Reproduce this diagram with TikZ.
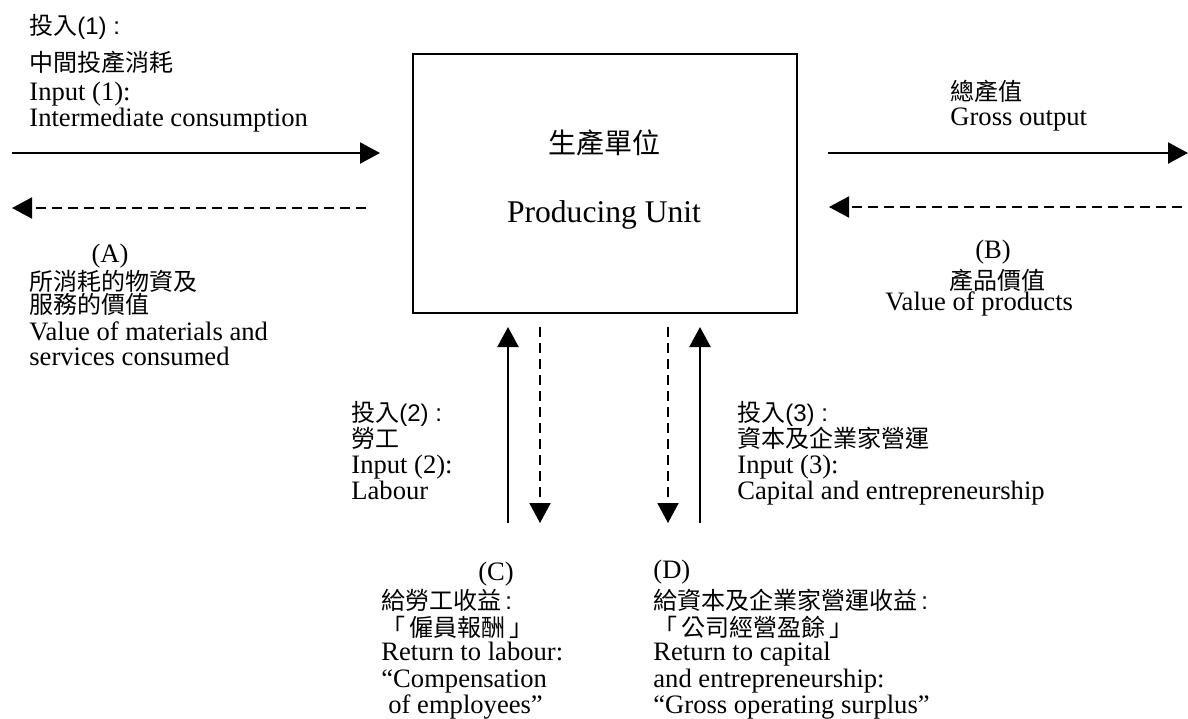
\documentclass[tikz,border=0pt]{standalone}
\usepackage{fontspec}
\setmainfont{Liberation Serif}
\newfontfamily\cjk{Noto Sans CJK TC}
\newfontfamily\lsans{Liberation Sans}
\usetikzlibrary{arrows.meta}
\begin{document}
\begin{tikzpicture}[x=0.5pt,y=-0.5pt,
  en/.style={font=\fontsize{13.3}{14}\selectfont, inner sep=0pt, anchor=base west},
  zh/.style={font=\cjk\fontsize{12}{13}\selectfont, inner sep=0pt, anchor=base west},
  flow/.style={line width=1.1pt, -{Triangle[length=10pt,width=10.5pt]}},
  ret/.style={line width=1pt, dash pattern=on 5pt off 3pt, -{Triangle[length=10pt,width=10.5pt]}},
  unitbox/.style={draw, line width=1pt, minimum width=192pt, minimum height=129.5pt, inner sep=0pt}]
\useasboundingbox (0,0) rectangle (1188,718);

% producing unit
\node[unitbox] (unit) at (605,183.5) {};
\node[font=\cjk\fontsize{14}{15}\selectfont, inner sep=0pt, anchor=base] (unitzh) at (604,153) {生產單位};
\node[font=\fontsize{15.8}{16}\selectfont, inner sep=0pt, anchor=base] (uniten) at (604,222) {Producing Unit};

% input 1
\node[zh] (i1a) at (29,34) {投入{\lsans(1) :}};
\node[zh] (i1b) at (29,71) {中間投產消耗};
\node[en] (i1c) at (29,100) {Input (1):};
\node[en] (i1d) at (29,126) {Intermediate consumption};
\coordinate (i1s) at (12,153);
\coordinate (i1e) at (380,153);
\draw[flow] (i1s) -- (i1e);
\coordinate (as) at (366,208);
\coordinate (ae) at (12,208);
\draw[ret] (as) -- (ae);

% (A)
\node[en, anchor=base] (A) at (110,262) {(A)};
\node[zh] (Aa) at (29,290) {所消耗的物資及};
\node[zh] (Ab) at (29,313) {服務的價值};
\node[en] (Ac) at (29,340) {Value of materials and};
\node[en] (Ad) at (29,365) {services consumed};

% gross output
\node[zh] (goa) at (950,100) {總產值};
\node[en] (gob) at (950,125) {Gross output};
\coordinate (gos) at (828,153);
\coordinate (goe) at (1188,153);
\draw[flow] (gos) -- (goe);
\coordinate (bs) at (1182,207);
\coordinate (be) at (829,207);
\draw[ret] (bs) -- (be);

% (B)
\node[en, anchor=base] (B) at (993,258) {(B)};
\node[zh, anchor=base] (Ba) at (997,289) {產品價值};
\node[en] (Bb) at (885,310) {Value of products};

% vertical arrows
\coordinate (l2s) at (508,523);
\coordinate (l2e) at (508,327);
\draw[flow] (l2s) -- (l2e);
\coordinate (cs) at (540,327);
\coordinate (ce) at (540,523);
\draw[ret] (cs) -- (ce);
\coordinate (ds) at (668,327);
\coordinate (de) at (668,523);
\draw[ret] (ds) -- (de);
\coordinate (l3s) at (700,523);
\coordinate (l3e) at (700,327);
\draw[flow] (l3s) -- (l3e);

% input 2
\node[zh] (i2a) at (351,421) {投入{\lsans(2) :}};
\node[zh] (i2b) at (351,447) {勞工};
\node[en] (i2c) at (351,473) {Input (2):};
\node[en] (i2d) at (351,499) {Labour};

% input 3
\node[zh] (i3a) at (737,421) {投入{\lsans(3) :}};
\node[zh] (i3b) at (737,447) {資本及企業家營運};
\node[en] (i3c) at (737,473) {Input (3):};
\node[en] (i3d) at (737,499) {Capital and entrepreneurship};

% (C)
\node[en, anchor=base] (C) at (496,580) {(C)};
\node[zh] (Ca) at (381,609) {給勞工收益{\lsans\,:}};
\node[zh] (Cb) at (381,636) {「\,僱員報酬\,」};
\node[en] (Cc) at (381,660) {Return to labour:};
\node[en] (Cd) at (381,687) {“Compensation};
\node[en] (Ce) at (388,713) {of employees”};

% (D)
\node[en] (D) at (653,578) {(D)};
\node[zh] (Da) at (653,609) {給資本及企業家營運收益{\lsans\,:}};
\node[zh] (Db) at (653,636) {「\,公司經營盈餘\,」};
\node[en] (Dc) at (653,660) {Return to capital};
\node[en] (Dd) at (653,687) {and entrepreneurship:};
\node[en] (De) at (653,713) {“Gross operating surplus”};
\end{tikzpicture}
\end{document}
